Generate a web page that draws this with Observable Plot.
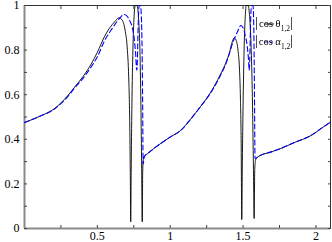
<!DOCTYPE html>
<html>
<head>
<meta charset="utf-8">
<script src="https://cdn.jsdelivr.net/npm/d3@7"></script>
<script src="https://cdn.jsdelivr.net/npm/@observablehq/plot@0.6"></script>
<style>
  html, body { margin: 0; padding: 0; background: #fff; }
  svg { font-family: "Liberation Serif", "DejaVu Serif", serif; }
  .legend-text { filter: grayscale(1); }
</style>
</head>
<body>
<div id="chart"></div>
<script>
// |cos θ_{1,2}| (solid black)
const thetaX = [0, 0.1, 0.2, 0.3, 0.344, 0.4, 0.458, 0.5, 0.55, 0.6, 0.619, 0.648, 0.67, 0.69, 0.705, 0.715, 0.722, 0.726, 0.729, 0.732, 0.737, 0.744, 0.752, 0.76, 0.772, 0.782, 0.792, 0.799, 0.804, 0.808, 0.811, 0.815, 0.825, 0.843, 0.9, 1.0, 1.072, 1.14, 1.2, 1.256, 1.3, 1.347, 1.38, 1.404, 1.425, 1.439, 1.452, 1.465, 1.475, 1.482, 1.487, 1.491, 1.495, 1.5, 1.507, 1.515, 1.522, 1.535, 1.545, 1.556, 1.565, 1.571, 1.576, 1.58, 1.585, 1.595, 1.7, 1.76, 1.85, 1.966, 2.05, 2.1];
const thetaY = [0.475, 0.502, 0.535, 0.598, 0.634, 0.68, 0.738, 0.79, 0.862, 0.913, 0.927, 0.945, 0.935, 0.89, 0.81, 0.68, 0.48, 0.25, 0.03, 0.25, 0.55, 0.8, 0.95, 1.0, 1.0, 0.95, 0.8, 0.55, 0.27, 0.03, 0.25, 0.31, 0.325, 0.335, 0.365, 0.41, 0.44, 0.49, 0.54, 0.589, 0.635, 0.694, 0.74, 0.783, 0.835, 0.855, 0.845, 0.8, 0.72, 0.58, 0.38, 0.04, 0.3, 0.55, 0.8, 0.95, 1.0, 1.0, 0.95, 0.8, 0.55, 0.28, 0.045, 0.26, 0.305, 0.318, 0.345, 0.359, 0.385, 0.417, 0.455, 0.477];

// |cos α_{1,2}| (dashed blue)
const alphaX = [0, 0.1, 0.2, 0.3, 0.344, 0.4, 0.458, 0.5, 0.55, 0.6, 0.65, 0.683, 0.7, 0.72, 0.74, 0.755, 0.763, 0.768, 0.771, 0.774, 0.778, 0.782, 0.788, 0.796, 0.802, 0.807, 0.811, 0.814, 0.816, 0.82, 0.825, 0.843, 0.9, 1.0, 1.072, 1.14, 1.2, 1.256, 1.3, 1.347, 1.38, 1.404, 1.43, 1.46, 1.485, 1.5, 1.515, 1.528, 1.537, 1.542, 1.546, 1.55, 1.554, 1.56, 1.568, 1.573, 1.577, 1.58, 1.582, 1.588, 1.595, 1.7, 1.76, 1.85, 1.966, 2.05, 2.1];
const alphaY = [0.475, 0.502, 0.533, 0.594, 0.63, 0.672, 0.725, 0.77, 0.843, 0.895, 0.94, 0.96, 0.955, 0.935, 0.9, 0.84, 0.78, 0.72, 0.71, 0.74, 0.85, 0.95, 1.0, 1.0, 0.95, 0.8, 0.55, 0.3, 0.29, 0.315, 0.325, 0.335, 0.365, 0.41, 0.44, 0.49, 0.54, 0.588, 0.632, 0.69, 0.735, 0.78, 0.835, 0.88, 0.91, 0.9, 0.865, 0.82, 0.76, 0.71, 0.76, 0.88, 0.97, 1.0, 1.0, 0.92, 0.7, 0.45, 0.315, 0.314, 0.318, 0.345, 0.359, 0.385, 0.417, 0.455, 0.477];

const xTicks = [0.25, 0.5, 0.75, 1, 1.25, 1.5, 1.75, 2];
const xLabels = [0.5, 1, 1.5, 2];
const yTicks = [0, 0.1, 0.2, 0.3, 0.4, 0.5, 0.6, 0.7, 0.8, 0.9, 1];
const yLabels = [0, 0.2, 0.4, 0.6, 0.8, 1];

const theta = thetaX.map((x, i) => ({x, y: thetaY[i]}));
const alpha = alphaX.map((x, i) => ({x, y: alphaY[i]}));

const fmt = d => String(+d.toFixed(2));

const chart = Plot.plot({
  width: 332,
  height: 242,
  marginLeft: 24,
  marginRight: 2,
  marginTop: 5,
  marginBottom: 14,
  style: {fontFamily: "Liberation Serif", fontSize: "12px", color: "#000", background: "#fff"},
  x: {domain: [0, 2.1], label: null},
  y: {domain: [0, 1], label: null},
  marks: [
    Plot.frame({stroke: "#000", strokeWidth: 0.8}),
    Plot.ruleX([0], {stroke: "#8a8a8a", strokeWidth: 2}),
    Plot.ruleY([0], {stroke: "#8a8a8a", strokeWidth: 2}),
    Plot.axisX({ticks: xTicks, label: null, tickSize: -3, tickPadding: 5.5, tickFormat: d => xLabels.includes(d) ? fmt(d) : "", stroke: "#444", fill: "#000", fontSize: 12}),
    Plot.axisX({anchor: "top", ticks: xTicks, label: null, tickSize: -3, tickFormat: () => "", stroke: "#444"}),
    Plot.axisY({ticks: yTicks, label: null, tickSize: -3, tickPadding: 8, tickFormat: d => yLabels.includes(d) ? fmt(d) : "", stroke: "#444", fill: "#000", fontSize: 12}),
    Plot.axisY({anchor: "right", ticks: yTicks, label: null, tickSize: -3, tickFormat: () => "", stroke: "#444"}),
    Plot.line(theta, {x: "x", y: "y", stroke: "#000", strokeWidth: 0.9, curve: "monotone-x"}),
    Plot.line(alpha, {x: "x", y: "y", stroke: "#0000ff", strokeWidth: 1.1, strokeDasharray: "5,3", curve: "monotone-x"})
  ]
});

document.getElementById("chart").appendChild(chart);

// Legend
const svg = d3.select(chart);
const leg = svg.append("g").attr("font-family", "Liberation Serif").attr("fill", "#000");
const rows = [
  {sym: "θ", stroke: "#000", dash: null, sw: 0.9, y: 24},
  {sym: "α", stroke: "#0000ff", dash: "3,2", sw: 1.1, y: 42}
];
rows.forEach(r => {
  leg.append("line").attr("x1", 265).attr("x2", 274).attr("y1", r.y).attr("y2", r.y)
    .attr("stroke", r.stroke).attr("stroke-width", r.sw).attr("stroke-dasharray", r.dash);
  const t = leg.append("text").attr("class", "legend-text").attr("x", 274).attr("y", r.y + 3).attr("font-size", 10.5);
  t.append("tspan").attr("font-size", 14).text("|");
  t.append("tspan").attr("dx", 1).text("cos " + r.sym);
  t.append("tspan").attr("font-size", 7.5).attr("dy", 3.5).text("1,2");
  t.append("tspan").attr("font-size", 14).attr("dy", -3.5).text("|");
});
</script>
</body>
</html>
